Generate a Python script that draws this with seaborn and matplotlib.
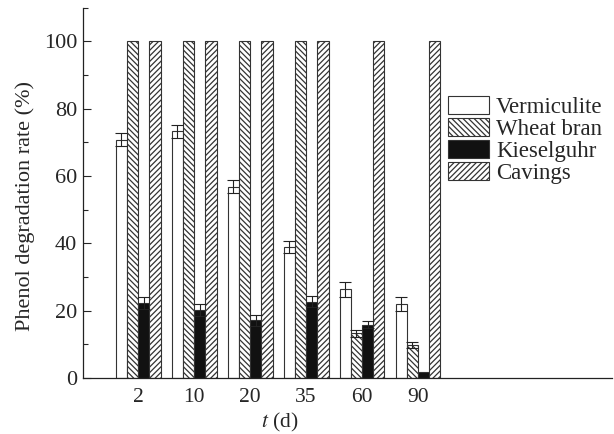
import numpy as np
import pandas as pd
import matplotlib
matplotlib.use("Agg")
import matplotlib.pyplot as plt
from matplotlib.ticker import MultipleLocator
from matplotlib.patches import Patch
import seaborn as sns

days = ["2", "10", "20", "35", "60", "90"]
supports = ["Vermiculite", "Wheat bran", "Kieselguhr", "Cavings"]

vermiculite = [70.8, 73.3, 56.9, 38.8, 26.4, 22.0]
wheat_bran = [100, 100, 100, 100, 13.3, 9.8]
kieselguhr = [22.4, 20.2, 17.1, 22.7, 15.8, 1.9]
cavings = [100, 100, 100, 100, 100, 100]

vermiculite_err = [2.0, 2.0, 1.8, 1.8, 2.2, 2.0]
wheat_bran_err = [0, 0, 0, 0, 1.0, 1.0]
kieselguhr_err = [1.8, 1.8, 1.6, 1.6, 1.0, 0]
cavings_err = [0, 0, 0, 0, 0, 0]

values = [vermiculite, wheat_bran, kieselguhr, cavings]
errors = [vermiculite_err, wheat_bran_err, kieselguhr_err, cavings_err]

df = pd.DataFrame({
    "day": [d for s in supports for d in days],
    "support": [s for s in supports for _ in days],
    "rate": [v for vals in values for v in vals],
})

sns.set_style("ticks")
plt.rcParams["font.family"] = ["Liberation Serif", "DejaVu Serif"]
plt.rcParams["hatch.linewidth"] = 0.9
plt.rcParams["hatch.color"] = "#222222"
plt.rcParams["mathtext.fontset"] = "stix"

fig = plt.figure(figsize=(6.14, 4.34), dpi=100)
ax = fig.add_axes([0.135, 0.129, 0.862, 0.853])

fills = ["white", "white", "#111111", "white"]
hatches = ["", "\\" * 6, "", "/" * 6]

sns.barplot(data=df, x="day", y="rate", hue="support", order=days,
            hue_order=supports, palette=fills, width=0.8,
            edgecolor="#333333", linewidth=0.8, errorbar=None,
            ax=ax, legend=False)

# style each bar and add error bars from the data arrays
bar_groups = list(ax.containers)
for i, cont in enumerate(bar_groups):
    for j, rect in enumerate(cont):
        rect.set_hatch(hatches[i])
        rect.set_edgecolor("#333333")
        if errors[i][j] > 0:
            ax.errorbar(rect.get_x() + rect.get_width() / 2, rect.get_height(),
                        yerr=errors[i][j], fmt="none", ecolor="#222222",
                        elinewidth=0.8, capsize=4, capthick=0.8)

handles = [Patch(facecolor=fills[i], edgecolor="#333333", hatch=hatches[i],
                 linewidth=0.8) for i in range(4)]
ax.legend(handles, supports, loc="upper left", bbox_to_anchor=(0.69, 0.762),
          frameon=False, fontsize=16.5, handlelength=1.8, handleheight=0.85,
          labelspacing=0.0, handletextpad=0.3, borderaxespad=0,
          borderpad=0)

ax.set_xlim(-0.99, 8.47)
ax.set_ylim(0, 110)
ax.yaxis.set_major_locator(MultipleLocator(20))
ax.yaxis.set_minor_locator(MultipleLocator(10))
ax.tick_params(axis="y", which="major", direction="in", length=6, width=0.8,
               labelsize=16, pad=4)
ax.tick_params(axis="y", which="minor", direction="in", length=3.5, width=0.8)
ax.tick_params(axis="x", length=0, labelsize=15.5, pad=7)
sns.despine(ax=ax)
for sp in ["left", "bottom"]:
    ax.spines[sp].set_linewidth(0.9)
    ax.spines[sp].set_color("#222222")

ax.set_ylabel("Phenol degradation rate (%)", fontsize=16)
ax.yaxis.set_label_coords(-0.09, 0.465)
ax.set_xlabel("$t$ (d)", fontsize=15.5)
ax.xaxis.set_label_coords(0.372, -0.09)

fig.savefig("out.png", dpi=100)
